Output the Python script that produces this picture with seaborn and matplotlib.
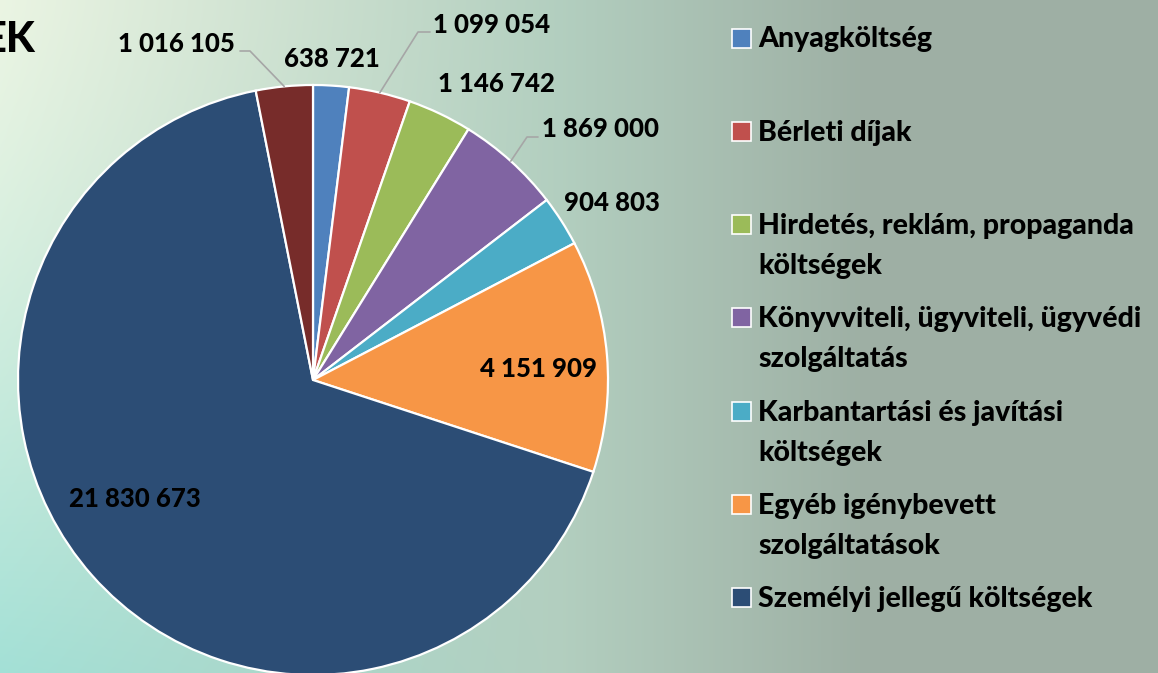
import numpy as np
import matplotlib.pyplot as plt
import seaborn as sns
from matplotlib.patches import Rectangle

# Data
categories = ['Anyagköltség',
              'Bérleti díjak',
              'Hirdetés, reklám, propaganda\nköltségek',
              'Könyvviteli, ügyviteli, ügyvédi\nszolgáltatás',
              'Karbantartási és javítási\nköltségek',
              'Egyéb igénybevett\nszolgáltatások',
              'Személyi jellegű költségek',
              'Egyéb költségek']
values = [638721, 1099054, 1146742, 1869000, 904803, 4151909, 21830673, 1016105]
colors = ['#4F81BD', '#C0504D', '#9BBB59', '#8064A2', '#4BACC6', '#F79646', '#2C4D75', '#772C2A']
legend_count = 7  # last category falls below the visible area

# Layout (pixels, y down)
W, H = 1158, 673
pie_center = (313, 380)
pie_radius = 295
# label anchor (center x, baseline y) and leader elbow (x, y, end x) or None
label_pos = [(332, 67), (492, 33), (497, 92), (601, 137), (612, 211), (538, 377), (135, 507), (176, 52)]
leaders = [None, (418, 32, 430), None, (527, 137, 538), None, None, None, (250, 51, 240)]

sns.set_theme(style='white')
plt.rcParams['font.family'] = ['Lato', 'DejaVu Sans']

fig = plt.figure(figsize=(W / 100, H / 100), dpi=100)
ax = fig.add_axes([0, 0, 1, 1])

# background gradient: light left edge -> teal middle -> grey-green right
yy, xx = np.mgrid[0:H, 0:W]
v = (yy / H)[..., None] ** 1.3
top_left = np.array([0.92, 0.96, 0.89])
bottom_left = np.array([0.64, 0.88, 0.84])
mid = np.array([0.70, 0.81, 0.75])
right = np.array([0.62, 0.69, 0.645])
left = top_left * (1 - v) + bottom_left * v
s1 = np.clip(xx / 560, 0, 1)[..., None]
s2 = np.clip((xx - 560) / 300, 0, 1)[..., None]
bg = left * (1 - s1) + mid * s1
bg = bg * (1 - s2) + right * s2
ax.imshow(bg, extent=(0, W, H, 0), zorder=0, aspect='auto')

wedges, _ = ax.pie(values, colors=colors, startangle=-90, counterclock=True,
                   center=pie_center, radius=pie_radius,
                   wedgeprops=dict(edgecolor='white', linewidth=1.6))
for w in wedges:
    w.set_zorder(2)

for w, val, (tx, ty), ld in zip(wedges, values, label_pos, leaders):
    txt = f'{val:,}'.replace(',', ' ')
    ax.text(tx, ty, txt, ha='center', va='baseline', fontsize=18.5,
            fontweight='black', color='black', zorder=4)
    if ld is not None:
        a = np.deg2rad((w.theta1 + w.theta2) / 2)
        x0 = pie_center[0] + pie_radius * np.cos(a)
        y0 = pie_center[1] + pie_radius * np.sin(a)
        ex, ey, hx = ld
        ax.plot([x0, ex, hx], [y0, ey, ey], color='#a6a6a6', lw=1.2, zorder=3)

# legend
for i in range(legend_count):
    yc = 38 + 93.3 * i
    ax.add_patch(Rectangle((732, yc - 9.5), 19, 19, facecolor=colors[i],
                           edgecolor='white', lw=1.2, zorder=4))
    for k, line in enumerate(categories[i].split('\n')):
        ax.text(758, yc + 9.5 + 40 * k, line, ha='left', va='baseline',
                fontsize=20.5, fontweight='black', color='black', zorder=4)

# cut-off title
ax.text(36, 52, 'EK', ha='right', va='baseline', fontsize=30, fontweight='black', color='black')

ax.set_xlim(0, W)
ax.set_ylim(H, 0)
ax.set_aspect('equal')
ax.axis('off')

fig.savefig('out.png', dpi=100)
